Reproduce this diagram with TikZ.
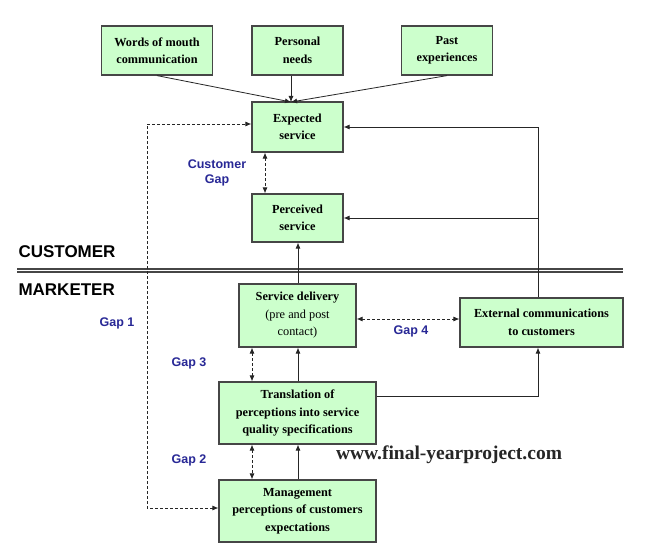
\documentclass[tikz,border=0pt]{standalone}
\usepackage{fontspec}
\setmainfont{Liberation Serif}
\setsansfont{Liberation Sans}
\usepackage{tikz}
\usetikzlibrary{positioning,arrows.meta,calc}
\usepackage{xcolor}
\definecolor{boxgreen}{RGB}{204,255,204}
\definecolor{boxline}{RGB}{70,70,70}
\definecolor{gapblue}{RGB}{40,40,150}

\begin{document}
\begin{tikzpicture}[
  x=1pt, y=-1pt,
  box/.style={draw=boxline, line width=1.2pt, fill=boxgreen, align=center, inner sep=2pt,
    font=\bfseries\fontsize{12.3}{17.5}\selectfont},
  arr/.style={draw=black!85, line width=0.8pt, -{Latex[length=6pt,width=5pt]}},
  gaparr/.style={arr, {Latex[length=6pt,width=5pt]}-{Latex[length=6pt,width=5pt]}, dash pattern=on 3pt off 2pt},
  side/.style={font=\sffamily\bfseries\fontsize{17}{20}\selectfont, anchor=west},
  gap/.style={text=gapblue, align=center, font=\sffamily\bfseries\fontsize{12.5}{15}\selectfont},
]
\useasboundingbox (0,0) rectangle (650,559);
\fill[white] (0,0) rectangle (650,559);

% customer side
\node[box, minimum width=111pt, minimum height=49pt] (wom) at (157,50.5) {Words of mouth\\communication};
\node[box, minimum width=91pt, minimum height=49pt] (needs) at (297.5,50.5) {Personal\\needs};
\node[box, minimum width=91pt, minimum height=49pt] (past) at (447,50.5) {Past\\experiences};
\node[box, minimum width=91pt, minimum height=50pt] (expected) at (297.5,127) {Expected\\service};
\node[box, minimum width=91pt, minimum height=48pt] (perceived) at (297.5,218) {Perceived\\service};

% marketer side
\node[box, minimum width=117pt, minimum height=63pt] (delivery) at (297.5,315.5) {Service delivery\\\mdseries(pre and post\\\mdseries contact)};
\node[box, minimum width=163pt, minimum height=49pt] (external) at (541.5,322.5) {External communications\\to customers};
\node[box, minimum width=157pt, minimum height=62pt] (transl) at (297.5,413) {Translation of\\perceptions into service\\quality specifications};
\node[box, minimum width=157pt, minimum height=62pt] (mgmt) at (297.5,511) {Management\\perceptions of customers\\expectations};

% divider
\draw[boxline, line width=1.3pt] (17,269) -- (623,269);
\draw[boxline, line width=1.3pt] (17,272) -- (623,272);
\node[side] (cust) at (15,252) {CUSTOMER};
\node[side] (mark) at (15,290) {MARKETER};

% helper coordinates
\coordinate (meet) at (291,102);
\coordinate (rx) at (538,0);
\coordinate (gx) at (252,0);
\coordinate (ux) at (298,0);
\coordinate (onex) at (147,0);
\coordinate (fy) at (0,319);
\coordinate (ty) at (0,396);

% connectors
\draw[arr] (wom.south) -- (meet);
\draw[arr] (needs.south -| meet) -- (meet);
\draw[arr] (past.south) -- (meet);
\draw[arr] (external.north -| rx) |- (expected.east);
\draw[arr] (perceived.east -| rx) -- (perceived.east);
\draw[arr] (delivery.north -| ux) -- (perceived.south -| ux);
\draw[arr] (transl.north -| ux) -- (delivery.south -| ux);
\draw[arr] (mgmt.north -| ux) -- (transl.south -| ux);
\draw[arr] (transl.east |- ty) -| (external.south -| rx);

% gaps
\draw[gaparr] (expected.south -| {(265,0)}) -- (perceived.north -| {(265,0)});
\draw[gaparr] (delivery.south -| gx) -- (transl.north -| gx);
\draw[gaparr] (transl.south -| gx) -- (mgmt.north -| gx);
\draw[gaparr] (delivery.east |- fy) -- (external.west |- fy);
\draw[gaparr] (mgmt.west |- {(0,508)}) -| (onex |- {(0,300)}) |- (expected.west |- {(0,124)});

\node[gap] (gapc) at (217,173) {Customer\\Gap};
\node[gap] (gap1) at (117,323) {Gap 1};
\node[gap] (gap3) at (189,363) {Gap 3};
\node[gap] (gap2) at (189,460) {Gap 2};
\node[gap] (gap4) at (411,331) {Gap 4};

\node[font=\bfseries\fontsize{19.5}{21}\selectfont, text=black!85] (web) at (449,455) {www.final-yearproject.com};
\end{tikzpicture}
\end{document}
